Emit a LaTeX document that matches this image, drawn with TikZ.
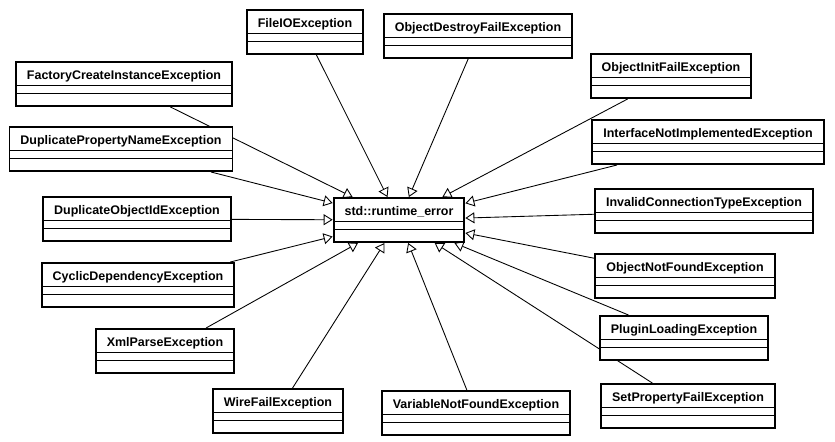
\documentclass[tikz,border=0pt]{standalone}
\usepackage{fontspec}
\setmainfont{Liberation Sans}
\usetikzlibrary{arrows.meta,backgrounds}

\begin{document}
\begin{tikzpicture}[x=0.02cm,y=-0.02cm,
  cls/.style={draw,line width=1.1pt,fill=white,font=\fontsize{7.1}{8}\selectfont\bfseries,
    inner xsep=0.22cm,inner ysep=0.09cm,text height=0.25cm,text depth=0.45cm,
    path picture={
      \draw[line width=0.5pt] ([yshift=-0.47cm]path picture bounding box.north west) -- ([yshift=-0.47cm]path picture bounding box.north east);
      \draw[line width=0.5pt] ([yshift=-0.63cm]path picture bounding box.north west) -- ([yshift=-0.63cm]path picture bounding box.north east);}},
  gen/.style={-{Triangle[open,fill=white,length=0.18cm,width=0.22cm]},line width=0.5pt}]
\useasboundingbox (0,0) rectangle (835,441);

\node[cls] (rte) at (399,220) {std::runtime\_error};

\node[cls] (fileio) at (305,32) {FileIOException};
\node[cls] (objdestroy) at (478,36) {ObjectDestroyFailException};
\node[cls] (factory) at (124,84) {FactoryCreateInstanceException};
\node[cls] (dupprop) at (121,149) {DuplicatePropertyNameException};
\node[cls] (dupobj) at (137,219) {DuplicateObjectIdException};
\node[cls] (cyclic) at (138,285) {CyclicDependencyException};
\node[cls] (xmlparse) at (165,351) {XmlParseException};
\node[cls] (wirefail) at (278,411) {WireFailException};
\node[cls] (varnotfound) at (476,413) {VariableNotFoundException};
\node[cls] (objinit) at (671,76) {ObjectInitFailException};
\node[cls] (ifacenotimpl) at (708,142) {InterfaceNotImplementedException};
\node[cls] (invalidconn) at (704,211) {InvalidConnectionTypeException};
\node[cls] (objnotfound) at (685,276) {ObjectNotFoundException};
\node[cls] (pluginload) at (684,338) {PluginLoadingException};
\node[cls] (setprop) at (688,406) {SetPropertyFailException};

\begin{pgfonlayer}{background}
\draw[gen] (fileio) -- (rte);
\draw[gen] (objdestroy) -- (rte);
\draw[gen] (factory) -- (rte);
\draw[gen] (dupprop) -- (rte);
\draw[gen] (dupobj) -- (rte);
\draw[gen] (cyclic) -- (rte);
\draw[gen] (xmlparse) -- (rte);
\draw[gen] (wirefail) -- (rte);
\draw[gen] (varnotfound) -- (rte);
\draw[gen] (objinit) -- (rte);
\draw[gen] (ifacenotimpl) -- (rte);
\draw[gen] (invalidconn) -- (rte);
\draw[gen] (objnotfound) -- (rte);
\draw[gen] (pluginload) -- (rte);
\draw[gen] (setprop) -- (rte);
\end{pgfonlayer}
\end{tikzpicture}
\end{document}
